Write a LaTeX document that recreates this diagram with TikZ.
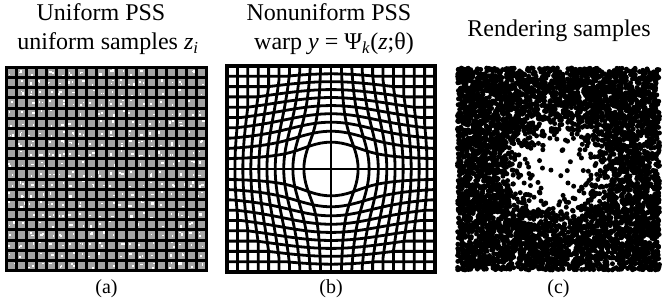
\documentclass[tikz,border=0pt]{standalone}
\usepackage{fontspec}
\setmainfont{Liberation Serif}
\begin{document}
\begin{tikzpicture}[x=1pt,y=-1pt,
  declare function={wF(\q)=1+0.25*max(0,1-\q)/(\q+0.04);},
  ttl/.style={font=\fontsize{24}{29}\selectfont, anchor=base, inner sep=0pt},
  lbl/.style={font=\fontsize{20}{22}\selectfont, anchor=base, inner sep=0pt},
  gridline/.style={line width=2.8pt, line join=round, line cap=round},
  cellgray/.style={fill=black!36}]
\useasboundingbox (0,0) rectangle (664,302);
\pgfmathsetseed{7}
% ---------- titles ----------
\node[ttl] (ta1) at (101,21) {Uniform PSS};
\node[ttl] (ta2) at (108,50) {uniform samples \textit{z}\textsubscript{\textit{i}}};
\node[ttl] (tb1) at (329,21) {Nonuniform PSS};
\node[ttl] (tb2) at (334,50) {warp \textit{y} = Ψ\textsubscript{\textit{k}}(\textit{z};θ)};
\node[ttl] (tc) at (559,37) {Rendering samples};
% ---------- panel (a) ----------
\fill[black] (5,66) rectangle (208,272);
\foreach \i in {0,...,19}{
  \foreach \j in {0,...,19}{
    \fill[cellgray] ({8+10*\i},{69+10.15*\j}) rectangle ++(7,7.15);
    \foreach \m in {1,2}{
      \pgfmathsetmacro\pa{rnd}
      \ifdim\pa pt<0.5pt
        \pgfmathsetmacro\sw{1+rnd*1.6}
        \pgfmathsetmacro\sh{1+rnd*1.6}
        \pgfmathsetmacro\sx{8+10*\i+rnd*(7-\sw)}
        \pgfmathsetmacro\sy{69+10.15*\j+rnd*(7.15-\sh)}
        \fill[white] (\sx,\sy) rectangle ++(\sw,\sh);
      \fi
    }
  }
}
% ---------- panel (b) ----------
\begin{scope}[shift={(331,169)}, x=104pt, y=103pt]
  \begin{scope}
    \clip (-1,-1) rectangle (1,1);
    \foreach \k in {1,...,9}{
      \foreach \sg in {-1,1}{
        \pgfmathsetmacro\cv{\sg*\k/10}
        \draw[gridline] plot[variable=\tv, domain=-1:1, samples=101]
          ({\cv*wF(sqrt(\cv*\cv+\tv*\tv))},{\tv*wF(sqrt(\cv*\cv+\tv*\tv))});
        \draw[gridline] plot[variable=\tv, domain=-1:1, samples=101]
          ({\tv*wF(sqrt(\cv*\cv+\tv*\tv))},{\cv*wF(sqrt(\cv*\cv+\tv*\tv))});
      }
    }
    \draw[gridline] (0,-1) -- (0,1);
    \draw[gridline] (-1,0) -- (1,0);
  \end{scope}
  \draw[line width=4.5pt] (-1,-1) rectangle (1,1);
\end{scope}
% ---------- panel (c) ----------
\begin{scope}[shift={(558.5,169)}]
  \foreach \i in {1,...,6800}{
    \pgfmathsetmacro\ux{rand}
    \pgfmathsetmacro\uy{rand}
    \pgfmathsetmacro\pp{0.03+0.97*min(1,(max(0,sqrt(\ux*\ux+\uy*\uy)-0.15)/0.5)^2)}
    \pgfmathsetmacro\uu{rnd}
    \ifdim\uu pt<\pp pt
      \fill (\ux*101,\uy*101) circle[radius=2.5];
    \fi
  }
\end{scope}
% ---------- labels ----------
\node[lbl] (la) at (106.5,293) {(a)};
\node[lbl] (lb) at (331,293) {(b)};
\node[lbl] (lc) at (558.5,293) {(c)};
\end{tikzpicture}
\end{document}
